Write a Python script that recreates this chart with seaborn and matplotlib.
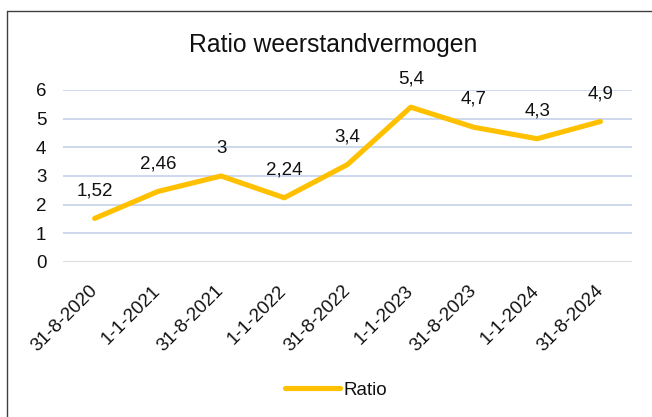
import matplotlib
matplotlib.use("Agg")
import matplotlib.pyplot as plt
import seaborn as sns
import numpy as np
import pandas as pd
from matplotlib.lines import Line2D

dates = ["31-8-2020", "1-1-2021", "31-8-2021", "1-1-2022", "31-8-2022",
         "1-1-2023", "31-8-2023", "1-1-2024", "31-8-2024"]
ratio = [1.52, 2.46, 3, 2.24, 3.4, 5.4, 4.7, 4.3, 4.9]
ratio_labels = ["1,52", "2,46", "3", "2,24", "3,4", "5,4", "4,7", "4,3", "4,9"]
yticks = [0, 1, 2, 3, 4, 5, 6]

sns.set_theme(style="white")
plt.rcParams['font.family'] = ['Liberation Sans', 'DejaVu Sans']

W, H = 652, 417
fig = plt.figure(figsize=(W / 100, H / 100), dpi=100)
fig.patch.set_facecolor("white")

ax_l, ax_r, ax_t, ax_b = 63, 632, 90, 262
ax = fig.add_axes([ax_l / W, 1 - ax_b / H, (ax_r - ax_l) / W, (ax_b - ax_t) / H])

df = pd.DataFrame({"pos": np.arange(len(dates)), "Ratio": ratio})
TXT = "#111111"
FS = 13.5

# gridlines
for v in yticks:
    ax.axhline(v, color="#D9D9D9" if v == 0 else "#CAD6EC", lw=1.3, zorder=0)

sns.lineplot(data=df, x="pos", y="Ratio", ax=ax, color="#FFC000", lw=3.7,
             label="Ratio", legend=False, zorder=3)
ax.lines[-1].set_solid_capstyle("round")

for x, y, t in zip(df["pos"], ratio, ratio_labels):
    ax.annotate(t, (x, y), xytext=(0, 20), textcoords="offset points",
                ha="center", va="center", fontsize=FS, color=TXT)

ax.set_xlim(-0.5, len(dates) - 0.5)
ax.set_ylim(0, 6)
ax.set_yticks(yticks)
ax.set_yticklabels([str(v) for v in yticks], fontsize=FS, color=TXT)
ax.set_xticks(df["pos"])
ax.set_xticklabels(dates, fontsize=FS, color=TXT, rotation=45,
                   ha="right", va="center", rotation_mode="anchor")
ax.tick_params(axis="x", length=0, pad=19)
ax.tick_params(axis="y", length=0, pad=12)
ax.set_xlabel("")
ax.set_ylabel("")
for s in ax.spines.values():
    s.set_visible(False)
ax.patch.set_alpha(0)

fig.text(333 / W, 1 - 45 / H, "Ratio weerstandvermogen", ha="center",
         va="center", fontsize=17.8, color=TXT)

handle = Line2D([], [], color="#FFC000", lw=3.7, solid_capstyle="round")
fig.legend([handle], ["Ratio"], loc="center", bbox_to_anchor=(336 / W, 1 - 390 / H),
           frameon=False, fontsize=FS, handlelength=2.9, handletextpad=0.2,
           borderpad=0, borderaxespad=0, labelcolor=TXT)

# outer chart border (cropped at right/bottom)
fig.add_artist(Line2D([6.5 / W, 6.5 / W], [1 - 11 / H, 0], transform=fig.transFigure,
                      color="#404040", lw=1.0))
fig.add_artist(Line2D([6.5 / W, 1], [1 - 11 / H, 1 - 11 / H], transform=fig.transFigure,
                      color="#404040", lw=1.0))

fig.savefig("out.png", dpi=100)
